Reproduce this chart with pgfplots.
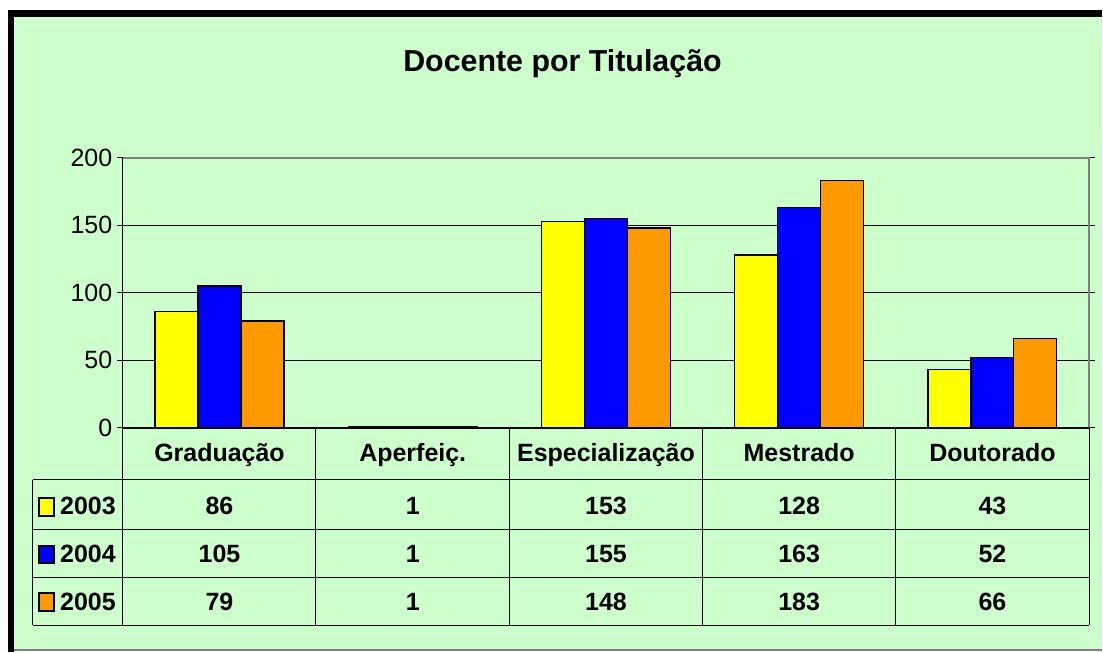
\documentclass[border=0pt]{standalone}
\usepackage{fontspec}
\setmainfont{Liberation Sans}
\usepackage{pgfplots}
\pgfplotsset{compat=1.18}
\definecolor{bg}{HTML}{CCFFCC}
\definecolor{c03}{HTML}{FFFF00}
\definecolor{c04}{HTML}{0000FF}
\definecolor{c05}{HTML}{FF9900}
\definecolor{frame}{HTML}{808080}
\newcommand{\fs}{\fontsize{18.75}{20}\selectfont}

\begin{document}
\begin{tikzpicture}
% background, in reference pixels (y down), origin at the plot's lower left
\begin{scope}[x=0.75pt,y=-0.75pt,shift={(-123,-428)}]
  \fill[white] (0,0) rectangle (1103,653);
  \fill[black] (8,10) rectangle (14,653);
  \fill[black] (8,10) rectangle (1103,17);
  \fill[bg] (14,17) rectangle (1103,650);
  \draw[frame,line width=1.5] (14,650.5) -- (1103,650.5);
\end{scope}

\begin{axis}[
    at={(0,0)}, anchor=south west,
    scale only axis,
    width=725.25pt, height=202.5pt,
    xmin=-0.5, xmax=4.5,
    ymin=0, ymax=200,
    ybar=0pt, bar width=32.25pt,
    xtick=\empty,
    ytick={0,50,...,200},
    ymajorgrids,
    grid style={black, line width=0.6pt},
    ytick align=outside,
    major tick length=4.5pt,
    tick style={black, line width=0.6pt},
    axis line style={draw=none},
    yticklabel style={font=\fs},
    /pgf/number format/assume math mode=true,
    clip=false,
]
\addplot[fill=c03, draw=black, line width=0.9pt] coordinates {(0,86) (1,1) (2,153) (3,128) (4,43)};
\addplot[fill=c04, draw=black, line width=0.9pt] coordinates {(0,105) (1,1) (2,155) (3,163) (4,52)};
\addplot[fill=c05, draw=black, line width=0.9pt] coordinates {(0,79) (1,1) (2,148) (3,183) (4,66)};
\draw[frame, line width=1.5pt] (rel axis cs:0,1) -- (rel axis cs:1,1) -- (rel axis cs:1,0);
\draw[black, line width=0.75pt] (rel axis cs:0,0) -- (rel axis cs:0,1);
\end{axis}

% data table and title, in reference pixels
\begin{scope}[x=0.75pt,y=-0.75pt,shift={(-123,-428)}]
  \draw[black, line width=1.5pt] (123,428) -- (1090,428);
  \foreach \xx in {123,316,510,703,896,1090}
    \draw[black, line width=0.75pt] (\xx,428) -- (\xx,626);
  \draw[black, line width=0.75pt] (33,480) -- (33,626);
  \foreach \yy in {480,530,578,626}
    \draw[black, line width=0.75pt] (33,\yy) -- (1090,\yy);
  \node[font=\fontsize{22.8}{24}\selectfont\bfseries, anchor=base, inner sep=0] at (563,72) {Docente por Titulação};
  \foreach \lab [count=\i from 0] in {Graduação,Aperfeiç.,Especialização,Mestrado,Doutorado}
    \node[font=\fs\bfseries, anchor=base, inner sep=0] at (219.7+193.4*\i,462) {\lab};
  \foreach \col/\yr/\bl in {c03/2003/515,c04/2004/563,c05/2005/611} {
    \filldraw[fill=\col, draw=black, line width=1.5pt] (39,\bl-17) rectangle (54,\bl+1);
    \node[font=\fs\bfseries, anchor=base west, inner sep=0] at (60,\bl) {\yr};
  }
  \foreach \a/\b/\c [count=\i from 0] in {86/105/79, 1/1/1, 153/155/148, 128/163/183, 43/52/66} {
    \node[font=\fs\bfseries, anchor=base, inner sep=0] at (219.7+193.4*\i,515) {\a};
    \node[font=\fs\bfseries, anchor=base, inner sep=0] at (219.7+193.4*\i,563) {\b};
    \node[font=\fs\bfseries, anchor=base, inner sep=0] at (219.7+193.4*\i,611) {\c};
  }
\end{scope}
\end{tikzpicture}
\end{document}
